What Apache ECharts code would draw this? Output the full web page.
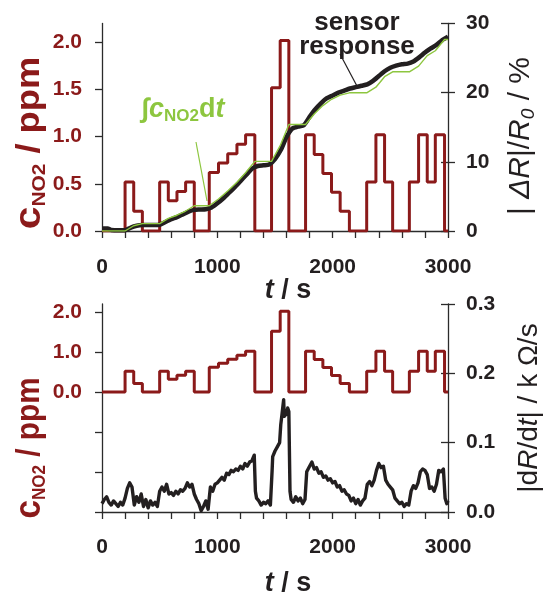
<!DOCTYPE html>
<html><head><meta charset="utf-8">
<script src="https://cdn.jsdelivr.net/npm/echarts@6/dist/echarts.min.js"></script>
<style>html,body{margin:0;padding:0;background:#fff}#c{width:552px;height:595px}</style>
</head><body><div id="c"></div>
<script>
// ---- data ----
const stepTimes  = [0,200,275,350,500,575,650,725,800,930,1010,1090,1170,1245,1325,1470,1545,1620,1765,1840,1915,1990,2065,2145,2295,2375,2450,2520,2665,2745,2820,2890,2970,3000];
const stepLevels = [0,0.52,0.21,0,0.52,0.32,0.42,0.52,0,0.62,0.72,0.82,0.92,1.02,0,1.52,2.02,0,1.02,0.81,0.61,0.41,0.21,0,0.52,1.02,0.52,0,0.52,1.02,0.52,1.02,0,0];
const integralValues = [0,0,0.76,1.07,1.07,1.83,2.28,2.89,3.65,3.65,4.63,5.77,7.06,8.43,10.06,10.06,12.34,15.39,15.39,16.91,18.13,19.04,19.65,19.98,19.98,20.79,22.31,23.02,23.02,23.83,25.35,26.06,27.69,27.69];
const responseTimes  = [0,50,80,150,200,250,300,350,400,450,500,550,600,650,700,750,800,850,900,950,1000,1050,1100,1150,1200,1250,1300,1350,1400,1450,1500,1550,1600,1650,1700,1750,1800,1850,1900,1950,2000,2050,2100,2150,2200,2250,2300,2350,2400,2450,2500,2550,2600,2650,2700,2750,2800,2850,2900,2950,3000];
const responseValues = [0.35,0.35,0.15,0.1,0.1,0.5,0.75,0.85,0.85,0.85,0.9,1.3,1.7,2.0,2.4,2.8,3.05,3.1,3.15,3.4,4.0,4.7,5.5,6.3,7.2,8.1,9.0,9.4,9.5,9.6,10.4,11.7,13.6,14.8,15.1,15.3,16.5,17.6,18.5,19.2,19.6,20.0,20.3,20.6,20.8,21.0,21.2,21.7,22.4,23.1,23.6,23.9,24.1,24.2,24.5,25.1,25.8,26.4,26.9,27.6,28.1];
const rateTimes = [0,20,40,60,80,100,120,140,160,180,200,220,240,260,280,300,320,340,360,380,400,420,440,460,480,500,520,540,560,580,600,620,640,660,680,700,720,740,760,780,800,820,840,860,880,900,920,940,960,980,1000,1020,1040,1060,1080,1100,1120,1140,1160,1180,1200,1220,1240,1260,1280,1300,1320,1330,1340,1360,1380,1400,1420,1440,1460,1475,1480,1500,1520,1540,1550,1560,1575,1580,1600,1610,1620,1630,1640,1660,1680,1700,1720,1740,1760,1775,1800,1820,1840,1860,1880,1900,1920,1940,1960,1980,2000,2020,2040,2060,2080,2100,2120,2140,2160,2180,2200,2220,2240,2260,2280,2300,2320,2340,2360,2380,2400,2420,2440,2460,2480,2500,2520,2540,2560,2580,2600,2620,2640,2660,2680,2700,2720,2740,2760,2780,2800,2820,2840,2860,2880,2900,2920,2940,2960,2975,2990,3000];
const rateValues = [0.012,0.018,0.022,0.014,0.010,0.016,0.012,0.008,0.014,0.010,0.020,0.034,0.042,0.036,0.010,0.022,0.014,0.026,0.008,0.018,0.006,0.016,0.010,0.014,0.008,0.030,0.036,0.030,0.040,0.026,0.028,0.024,0.030,0.026,0.032,0.030,0.034,0.042,0.036,0.040,0.026,0.018,0.012,0.002,0.008,0.016,0.004,0.036,0.030,0.040,0.042,0.046,0.050,0.046,0.056,0.054,0.060,0.058,0.062,0.060,0.066,0.062,0.070,0.066,0.072,0.074,0.082,0.030,0.020,0.016,0.010,0.014,0.012,0.016,0.010,0.060,0.080,0.088,0.094,0.100,0.126,0.140,0.162,0.138,0.142,0.150,0.145,0.030,0.018,0.014,0.022,0.016,0.020,0.012,0.018,0.058,0.066,0.072,0.062,0.064,0.056,0.058,0.050,0.052,0.046,0.048,0.042,0.044,0.036,0.038,0.030,0.032,0.026,0.024,0.016,0.020,0.012,0.018,0.010,0.016,0.020,0.040,0.044,0.038,0.046,0.060,0.070,0.064,0.066,0.046,0.040,0.036,0.032,0.020,0.016,0.012,0.014,0.008,0.012,0.010,0.030,0.038,0.034,0.042,0.058,0.062,0.060,0.054,0.034,0.036,0.030,0.040,0.060,0.058,0.062,0.020,0.012,0.016];
const xLabelValues = [0,1000,2000,3000];
const concTicksTop = [0,0.5,1,1.5,2];
const concTicksBottom = [-3,-2,-1,0,1,2];
const concLabelsBottom = [0,1,2];

// ---- helpers ----
const zip = (a,b) => a.map((v,i) => [v,b[i]]);
const RED = '#8B1A1A', GREEN = '#8DC63F', BLACK = '#231F20', AX = '#2b2b2b';
const FF = "'Liberation Sans', Arial, sans-serif";
const lbl = (color, extra) => Object.assign({fontFamily:FF, fontWeight:'bold', fontSize:21, color:color}, extra||{});

function xAx(g){
  return {type:'value', gridIndex:g, min:0, max:3000, interval:200,
    axisLine:{onZero:false, lineStyle:{color:AX, width:1.3}},
    axisTick:{length:7, lineStyle:{color:AX, width:1.3}},
    splitLine:{show:false},
    axisLabel:lbl(BLACK,{margin:g===0?26:25, customValues:xLabelValues, formatter:v=>String(v)})};
}
function yRight(g, min, max, interval, fmt, inside){
  return {type:'value', gridIndex:g, position:'right', min:min, max:max, interval:interval,
    axisLine:{show:!inside, lineStyle:{color:AX, width:1.3}},
    axisTick:{inside:!!inside, length:7, lineStyle:{color:AX, width:1.3}},
    splitLine:{show:false},
    axisLabel: inside ? {show:false} : lbl(BLACK,{margin:18, formatter:fmt})};
}
function leftTitle(x, y, sx){
  return {type:'text', x:x, y:y, rotation:Math.PI/2, scaleX:sx, style:{
    text:'{c|c}{s|NO2}{m| / ppm}', fill:RED, align:'center', verticalAlign:'middle',
    rich:{c:{fontSize:37, fontWeight:'bold', fontFamily:FF, fill:RED, lineHeight:38},
          s:{fontSize:19, fontWeight:'bold', fontFamily:FF, fill:RED, verticalAlign:'bottom', lineHeight:19},
          m:{fontSize:33, fontWeight:'bold', fontFamily:FF, fill:RED, lineHeight:38}}}};
}

const chart = echarts.init(document.getElementById('c'), null, {renderer:'canvas'});
const option = {
  animation:false,
  grid:[{left:102, top:23.5, width:346, height:207.5},
        {left:102, top:304, width:346, height:208}],
  xAxis:[xAx(0), xAx(1)],
  yAxis:[
    {type:'value', gridIndex:0, position:'left', min:0, max:2.2,
     axisLine:{lineStyle:{color:AX, width:1.3}},
     axisTick:{length:7, customValues:concTicksTop, lineStyle:{color:AX, width:1.3}},
     splitLine:{show:false},
     axisLabel:lbl(RED,{margin:20, customValues:concTicksTop, formatter:v=>v.toFixed(1)})},
    yRight(0,0,30,10,v=>String(v),false),
    yRight(0,0,30,10,null,true),
    {type:'value', gridIndex:1, position:'left', min:-3, max:2.2,
     axisLine:{lineStyle:{color:AX, width:1.3}},
     axisTick:{length:7, customValues:concTicksBottom, lineStyle:{color:AX, width:1.3}},
     splitLine:{show:false},
     axisLabel:lbl(RED,{margin:20, customValues:concLabelsBottom, formatter:v=>v.toFixed(1)})},
    yRight(1,0,0.3,0.1,v=>v.toFixed(1),false),
    yRight(1,0,0.3,0.1,null,true)
  ],
  series:[
    {type:'line', xAxisIndex:0, yAxisIndex:0, step:'end', symbol:'none', data:zip(stepTimes,stepLevels),
     lineStyle:{color:RED, width:3}, z:2},
    {type:'line', xAxisIndex:0, yAxisIndex:1, symbol:'none', smooth:0.2, data:zip(responseTimes,responseValues),
     lineStyle:{color:BLACK, width:4.5}, z:3},
    {type:'line', xAxisIndex:0, yAxisIndex:1, symbol:'none', data:zip(stepTimes,integralValues),
     lineStyle:{color:GREEN, width:1.4}, z:4},
    {type:'line', xAxisIndex:1, yAxisIndex:3, step:'end', symbol:'none', data:zip(stepTimes,stepLevels),
     lineStyle:{color:RED, width:3}, z:2},
    {type:'line', xAxisIndex:1, yAxisIndex:4, symbol:'none', data:zip(rateTimes,rateValues),
     lineStyle:{color:BLACK, width:3.4, join:'round'}, z:3}
  ],
  graphic:[
    leftTitle(30, 143, 1.1),
    leftTitle(30, 448, 0.9),
    {type:'text', x:521, y:136, rotation:Math.PI/2, style:{
      text:'{n|| }{i|ΔR}{n||/}{i|R}{si|0}{n| / %}', fill:BLACK, align:'center', verticalAlign:'middle',
      rich:{n:{fontSize:30, fontFamily:FF, fill:BLACK, lineHeight:34},
            i:{fontSize:30, fontFamily:FF, fontStyle:'italic', fill:BLACK, lineHeight:34},
            si:{fontSize:19, fontFamily:FF, fontStyle:'italic', fill:BLACK, verticalAlign:'bottom', lineHeight:19}}}},
    {type:'text', x:529, y:408, rotation:Math.PI/2, style:{
      text:'{n||d}{i|R}{n|/d}{i|t}{n|| / k Ω/s}', fill:BLACK, align:'center', verticalAlign:'middle',
      rich:{n:{fontSize:28, fontFamily:FF, fill:BLACK, lineHeight:34},
            i:{fontSize:28, fontFamily:FF, fontStyle:'italic', fill:BLACK, lineHeight:34}}}},
    {type:'text', x:288, y:291, style:{
      text:'{i|t}{n| / s}', fill:BLACK, align:'center', verticalAlign:'middle',
      rich:{i:{fontSize:27, fontWeight:'bold', fontStyle:'italic', fontFamily:FF, fill:BLACK},
            n:{fontSize:27, fontWeight:'bold', fontFamily:FF, fill:BLACK}}}},
    {type:'text', x:288, y:584, style:{
      text:'{i|t}{n| / s}', fill:BLACK, align:'center', verticalAlign:'middle',
      rich:{i:{fontSize:27, fontWeight:'bold', fontStyle:'italic', fontFamily:FF, fill:BLACK},
            n:{fontSize:27, fontWeight:'bold', fontFamily:FF, fill:BLACK}}}},
    {type:'text', x:357, y:23, style:{text:'sensor', fill:BLACK, align:'center', verticalAlign:'middle',
      fontSize:26, fontWeight:'bold', fontFamily:FF}},
    {type:'text', x:357, y:47, style:{text:'response', fill:BLACK, align:'center', verticalAlign:'middle',
      fontSize:26, fontWeight:'bold', fontFamily:FF}},
    {type:'line', shape:{x1:340, y1:54, x2:358, y2:88}, style:{stroke:BLACK, lineWidth:1.2}},
    {type:'text', x:183, y:110, style:{
      text:'{n|∫}{i|c}{s|NO2}{n|d}{i|t}', fill:GREEN, align:'center', verticalAlign:'middle',
      rich:{n:{fontSize:27, fontWeight:'bold', fontFamily:FF, fill:GREEN, lineHeight:30},
            i:{fontSize:27, fontWeight:'bold', fontStyle:'italic', fontFamily:FF, fill:GREEN, lineHeight:30},
            s:{fontSize:17, fontWeight:'bold', fontFamily:FF, fill:GREEN, verticalAlign:'bottom', lineHeight:17}}}},
    {type:'line', shape:{x1:196, y1:142, x2:207, y2:201}, style:{stroke:GREEN, lineWidth:1.2}}
  ]
};
chart.setOption(option);
</script>
</body></html>
